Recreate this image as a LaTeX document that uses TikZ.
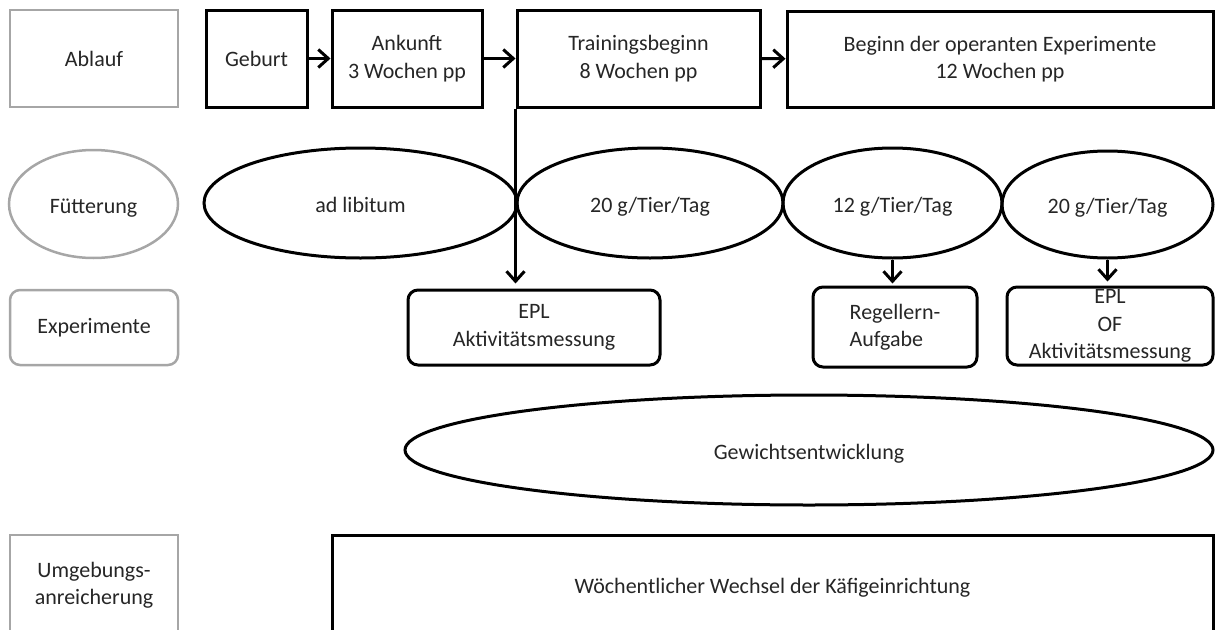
\documentclass[tikz,border=0pt]{standalone}
\usepackage{fontspec}
\setmainfont{Carlito}
\usepackage{xcolor}
\usetikzlibrary{shapes.geometric}
\usetikzlibrary{arrows.meta}

\definecolor{framegray}{HTML}{A6A6A6}
\definecolor{textgray}{HTML}{262626}

\begin{document}
\begin{tikzpicture}[x=1pt, y=-1pt,
	every node/.style={inner sep=0pt, text=textgray, align=center, font=\fontsize{22}{27.5}\selectfont},
	box/.style={draw, rectangle, line width=3pt},
	rbox/.style={draw, rectangle, rounded corners=10pt, line width=3pt},
	oval/.style={draw, ellipse, line width=3pt, text height=20pt, text depth=2pt},
	side/.style={draw=framegray, line width=2.5pt},
	flow/.style={line width=3pt, ->, >={Straight Barb[length=10pt, width=18pt]}}]
	\useasboundingbox (0,0) rectangle (1215,629);
	\clip (0,0) rectangle (1215,629);
	%
	% left column -- row titles
	\node[box, side, minimum width=168, minimum height=97] (ablauf) at (94, 58.5) {Ablauf};
	\node[oval, side, minimum width=169, minimum height=108] (fuetterung) at (93.5, 204) {Fütterung};
	\node[rbox, side, minimum width=168, minimum height=75] (experimente) at (94, 327.5) {Experimente};
	\node[box, side, minimum width=168, minimum height=100] (umgebung) at (94, 585) {Umgebungs-\\anreicherung};
	%
	% Ablauf
	\node[box, minimum width=101, minimum height=97] (geburt) at (256.5, 58.5) {Geburt};
	\node[box, minimum width=150, minimum height=97] (ankunft) at (407, 58.5) {Ankunft\\3 Wochen pp};
	\node[box, minimum width=243, minimum height=97] (training) at (638.5, 58.5) {Trainingsbeginn\\8 Wochen pp};
	\node[box, minimum width=426, minimum height=96] (beginn) at (1000, 59) {Beginn der operanten Experimente\\12 Wochen pp};
	%
	% Fuetterung
	\node[oval, minimum width=313, minimum height=110] (adlib) at (360.5, 203) {ad libitum};
	\node[oval, minimum width=266, minimum height=110] (futterA) at (650, 203) {20 g/Tier/Tag};
	\node[oval, minimum width=219, minimum height=110] (futterB) at (892.5, 203) {12 g/Tier/Tag};
	\node[oval, minimum width=211, minimum height=107] (futterC) at (1107.5, 204.5) {20 g/Tier/Tag};
	%
	% Experimente
	\node[rbox, minimum width=252, minimum height=75] (eplA) at (534, 327.5) {EPL\\Aktivitätsmessung};
	\node[rbox, minimum width=164, minimum height=80, align=left] (regel) at (895, 327) {Regellern-\\Aufgabe};
	\node[rbox, minimum width=206, minimum height=78] (eplB) at (1110, 326) {EPL\\OF\\Aktivitätsmessung};
	%
	% Gewicht, Umgebung
	\node[oval, minimum width=808, minimum height=110] (gewicht) at (809, 450) {Gewichtsentwicklung};
	\node[box, minimum width=881, minimum height=106] (wechsel) at (772.5, 588) {Wöchentlicher Wechsel der Käfigeinrichtung};
	%
	% arrows
	\draw[flow] (geburt) -- (ankunft);
	\draw[flow] (ankunft) -- (training);
	\draw[flow] (training) -- (beginn);
	\draw[flow, shorten >=5pt] (training.south west) -- (training.south west |- eplA.north);
	\draw[flow, shorten >=2pt] (futterB.south) -- (futterB.south |- regel.north);
	\draw[flow, shorten >=4pt] (futterC.south) -- (futterC.south |- eplB.north);
\end{tikzpicture}
\end{document}
